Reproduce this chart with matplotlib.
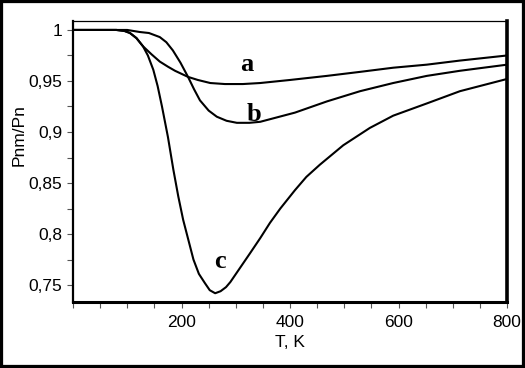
import matplotlib
matplotlib.use("Agg")
import matplotlib.pyplot as plt
from matplotlib.patches import Rectangle
from matplotlib.ticker import MultipleLocator, FuncFormatter

plt.rcParams['font.family'] = ['Liberation Sans', 'DejaVu Sans']

# curve a
t_a = [0, 80, 95, 105, 117, 129, 145, 160, 175, 188, 200, 212, 230, 253,
       280, 313, 345, 400, 468, 530, 590, 652, 713, 800]
p_a = [1.0, 1.0, 0.999, 0.997, 0.992, 0.984, 0.976, 0.969, 0.964, 0.960,
       0.957, 0.954, 0.951, 0.948, 0.947, 0.947, 0.948, 0.951, 0.955,
       0.959, 0.963, 0.966, 0.970, 0.975]

# curve b
t_b = [0, 100, 123, 140, 160, 172, 184, 198, 212, 223, 234, 250, 265, 283,
       302, 325, 345, 409, 468, 529, 590, 652, 713, 800]
p_b = [1.0, 1.0, 0.998, 0.997, 0.993, 0.988, 0.980, 0.968, 0.954, 0.942,
       0.931, 0.921, 0.915, 0.911, 0.909, 0.909, 0.910, 0.919, 0.930,
       0.940, 0.948, 0.955, 0.960, 0.966]

# curve c
t_c = [0, 80, 95, 105, 117, 129, 138, 148, 156, 164, 175, 185, 194, 203,
       222, 232, 243, 252, 262, 272, 282, 290, 308, 326, 345, 363, 382,
       409, 430, 455, 498, 547, 590, 652, 713, 800]
p_c = [1.0, 1.0, 0.999, 0.997, 0.992, 0.984, 0.975, 0.961, 0.945, 0.925,
       0.895, 0.863, 0.837, 0.814, 0.775, 0.761, 0.752, 0.745, 0.742,
       0.744, 0.748, 0.753, 0.767, 0.781, 0.796, 0.811, 0.825, 0.843,
       0.856, 0.868, 0.887, 0.904, 0.916, 0.928, 0.940, 0.952]

labels = ['a', 'b', 'c']
label_pos = [(321, 0.966), (334, 0.917), (271, 0.773)]

fig = plt.figure(figsize=(5.25, 3.68), dpi=100)
ax = fig.add_axes([0.139, 0.179, 0.827, 0.764])

for t, p in [(t_a, p_a), (t_b, p_b), (t_c, p_c)]:
    ax.plot(t, p, color='black', lw=1.5)

for lab, (x, y) in zip(labels, label_pos):
    ax.text(x, y, lab, family='Liberation Serif', fontweight='bold',
            fontsize=19, ha='center', va='center')

ax.set_xlim(0, 800)
ax.set_ylim(0.7333, 1.0088)

ax.xaxis.set_major_locator(MultipleLocator(200))
ax.xaxis.set_minor_locator(MultipleLocator(50))
ax.yaxis.set_major_locator(MultipleLocator(0.05))
ax.yaxis.set_minor_locator(MultipleLocator(0.025))


def comma(v, pos):
    if v <= 0:
        return ''
    s = ('%.2f' % v).rstrip('0').rstrip('.')
    return s.replace('.', ',')


ax.xaxis.set_major_formatter(FuncFormatter(lambda v, pos: '' if v <= 0 else '%d' % v))
ax.yaxis.set_major_formatter(FuncFormatter(comma))

ax.tick_params(which='both', direction='out', length=4, width=0.8,
               color='#555555', labelsize=12.5, top=False, right=False)
ax.tick_params(axis='x', pad=5)

ax.spines['left'].set_linewidth(1.6)
ax.spines['bottom'].set_linewidth(2.2)
ax.spines['right'].set_linewidth(2.6)
ax.spines['top'].set_linewidth(0.9)

ax.set_xlabel('T, K', fontsize=12.5)
ax.set_ylabel('Pnm/Pn', fontsize=12.5)
ax.xaxis.set_label_coords(0.5, -0.117)
ax.yaxis.set_label_coords(-0.106, 0.594)

fig.patches.append(Rectangle((0, 0), 1, 1, transform=fig.transFigure,
                             fill=False, lw=4.5, edgecolor='black'))

fig.savefig('out.png', dpi=100)
